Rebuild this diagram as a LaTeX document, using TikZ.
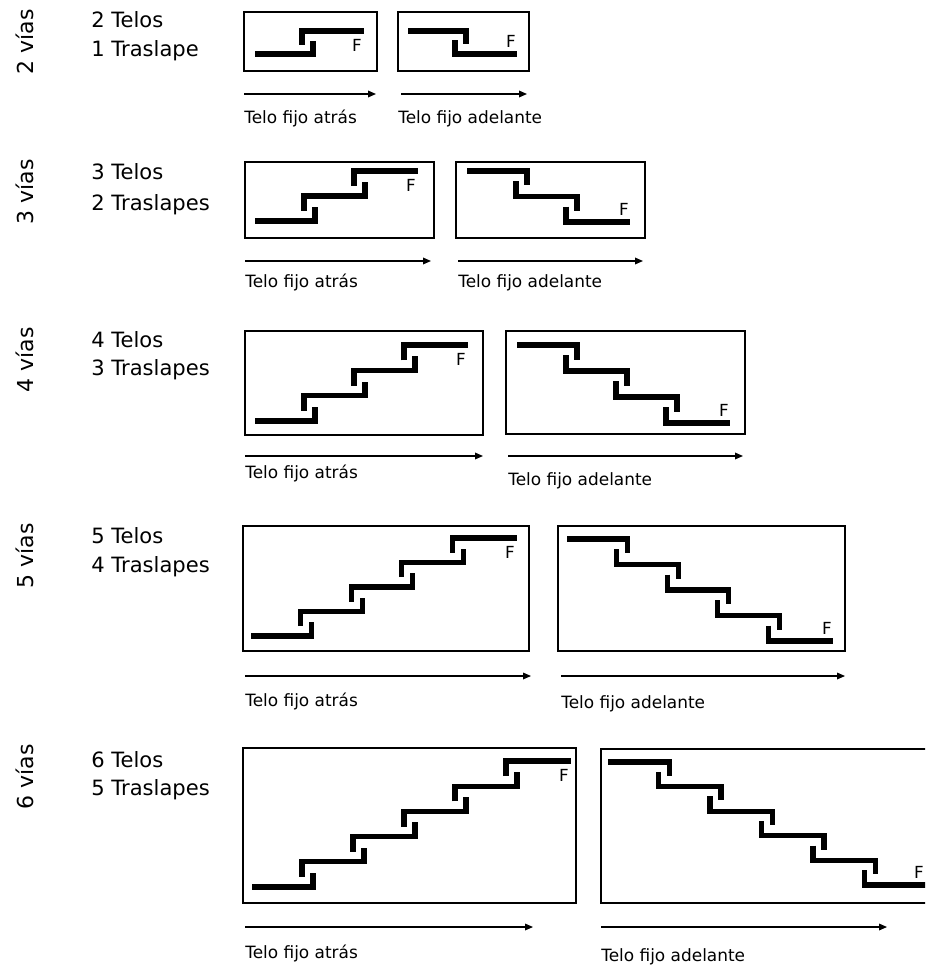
\documentclass[tikz,border=0pt]{standalone}
\usepackage{fontspec}
\setmainfont{DejaVu Sans}
\usetikzlibrary{arrows.meta}

\tikzset{
  caja/.style={line width=1pt},
  telo/.style={line width=4pt},
  flecha/.style={line width=0.9pt, -{Triangle[length=6pt,width=5pt]}},
  etiq/.style={font=\fontsize{12.7}{15}\selectfont, anchor=base west, inner sep=0pt},
  titulo/.style={font=\fontsize{15.8}{18}\selectfont, anchor=base west, inner sep=0pt},
  vias/.style={font=\fontsize{16.5}{19}\selectfont, rotate=90, anchor=base, inner sep=0pt},
  fmark/.style={font=\fontsize{12.5}{14}\selectfont, inner sep=0pt},
}

% #1 name of F, #2 x0, #3 y0, #4 dx, #5 dy, #6 number of telos
\newcommand{\stairup}[6]{%
  \foreach \k in {1,...,#6}{
    \pgfmathsetmacro{\yk}{#3-(\k-1)*#5}
    \pgfmathsetmacro{\lk}{#2+(\k-1)*#4-4}
    \pgfmathsetmacro{\rk}{#2+\k*#4+13}
    \ifnum\k=1
      \draw[telo] (#2,\yk) -- (\rk-3,\yk) -- (\rk-3,\yk-0.56*#5);
    \else\ifnum\k=#6
      \draw[telo] (\lk+3,\yk+0.6*#5) -- (\lk+3,\yk) -- (\rk,\yk);
    \else
      \draw[telo] (\lk+3,\yk+0.6*#5) -- (\lk+3,\yk) -- (\rk-3,\yk) -- (\rk-3,\yk-0.56*#5);
    \fi\fi
  }
  \pgfmathsetmacro{\rn}{#2+#6*#4+13}
  \pgfmathsetmacro{\yn}{#3-(#6-1)*#5}
  \node[fmark, anchor=north east] (#1) at (\rn-2,\yn+8) {F};
}
\newcommand{\stairdown}[6]{%
  \foreach \k in {1,...,#6}{
    \pgfmathsetmacro{\yk}{#3+(\k-1)*#5}
    \pgfmathsetmacro{\lk}{#2+(\k-1)*#4-4}
    \pgfmathsetmacro{\rk}{#2+\k*#4+13}
    \ifnum\k=1
      \draw[telo] (#2,\yk) -- (\rk-3,\yk) -- (\rk-3,\yk+0.56*#5);
    \else\ifnum\k=#6
      \draw[telo] (\lk+3,\yk-0.6*#5) -- (\lk+3,\yk) -- (\rk,\yk);
    \else
      \draw[telo] (\lk+3,\yk-0.6*#5) -- (\lk+3,\yk) -- (\rk-3,\yk) -- (\rk-3,\yk+0.56*#5);
    \fi\fi
  }
  \pgfmathsetmacro{\rn}{min(#2+#6*#4+13,925)}
  \pgfmathsetmacro{\yn}{#3+(#6-1)*#5}
  \node[fmark, anchor=south east] (#1) at (\rn-1,\yn-6) {F};
}

\begin{document}
\begin{tikzpicture}[x=0.75pt, y=-0.75pt]
  \clip (0,0) rectangle (925,966);

  % 2 vias
  \node[vias] (vias2) at (33,42) {2 vías};
  \node[titulo] (telos2) at (91,28) {2 Telos};
  \node[titulo] (trasl2) at (91,57) {1 Traslape};
  \draw[caja] (244,12) rectangle (377,71);
  \draw[caja] (398,12) rectangle (529,71);
  \stairup{fA2}{255}{54}{48}{23}{2}
  \stairdown{fB2}{408}{31}{48}{23}{2}
  \draw[flecha] (244,94) -- (376,94);
  \draw[flecha] (401,94) -- (527,94);
  \node[etiq] (atras2) at (244,124) {Telo fijo atrás};
  \node[etiq] (adel2) at (398,124) {Telo fijo adelante};

  % 3 vias
  \node[vias] (vias3) at (33,192) {3 vías};
  \node[titulo] (telos3) at (91,180) {3 Telos};
  \node[titulo] (trasl3) at (91,210) {2 Traslapes};
  \draw[caja] (245,162) rectangle (434,238);
  \draw[caja] (456,162) rectangle (645,238);
  \stairup{fA3}{255}{221}{50}{25}{3}
  \stairdown{fB3}{467}{171}{50}{25.5}{3}
  \draw[flecha] (245,261) -- (431,261);
  \draw[flecha] (458,261) -- (643,261);
  \node[etiq] (atras3) at (245,287) {Telo fijo atrás};
  \node[etiq] (adel3) at (458,287) {Telo fijo adelante};

  % 4 vias
  \node[vias] (vias4) at (33,360) {4 vías};
  \node[titulo] (telos4) at (91,347) {4 Telos};
  \node[titulo] (trasl4) at (91,375) {3 Traslapes};
  \draw[caja] (245,331) rectangle (483,435);
  \draw[caja] (506,331) rectangle (745,434);
  \stairup{fA4}{255}{421}{50}{25.3}{4}
  \stairdown{fB4}{517}{345}{50}{26}{4}
  \draw[flecha] (245,456) -- (483,456);
  \draw[flecha] (508,456) -- (743,456);
  \node[etiq] (atras4) at (245,478) {Telo fijo atrás};
  \node[etiq] (adel4) at (508,485) {Telo fijo adelante};

  % 5 vias
  \node[vias] (vias5) at (33,556) {5 vías};
  \node[titulo] (telos5) at (91,543) {5 Telos};
  \node[titulo] (trasl5) at (91,572) {4 Traslapes};
  \draw[caja] (243,526) rectangle (529,651);
  \draw[caja] (558,526) rectangle (845,651);
  \stairup{fA5}{251}{636}{50.6}{24.5}{5}
  \stairdown{fB5}{567}{539}{50.6}{25.5}{5}
  \draw[flecha] (245,676) -- (531,676);
  \draw[flecha] (561,676) -- (845,676);
  \node[etiq] (atras5) at (245,706) {Telo fijo atrás};
  \node[etiq] (adel5) at (561,708) {Telo fijo adelante};

  % 6 vias
  \node[vias] (vias6) at (33,777) {6 vías};
  \node[titulo] (telos6) at (91,767) {6 Telos};
  \node[titulo] (trasl6) at (91,795) {5 Traslapes};
  \draw[caja] (243,748) rectangle (576,903);
  \draw[caja] (601,749) rectangle (934,903);
  \stairup{fA6}{252}{887}{51}{25.2}{6}
  \stairdown{fB6}{608}{762}{51.5}{24.6}{6}
  \draw[flecha] (245,927) -- (533,927);
  \draw[flecha] (601,927) -- (887,927);
  \node[etiq] (atras6) at (245,958) {Telo fijo atrás};
  \node[etiq] (adel6) at (601,961) {Telo fijo adelante};
\end{tikzpicture}
\end{document}
